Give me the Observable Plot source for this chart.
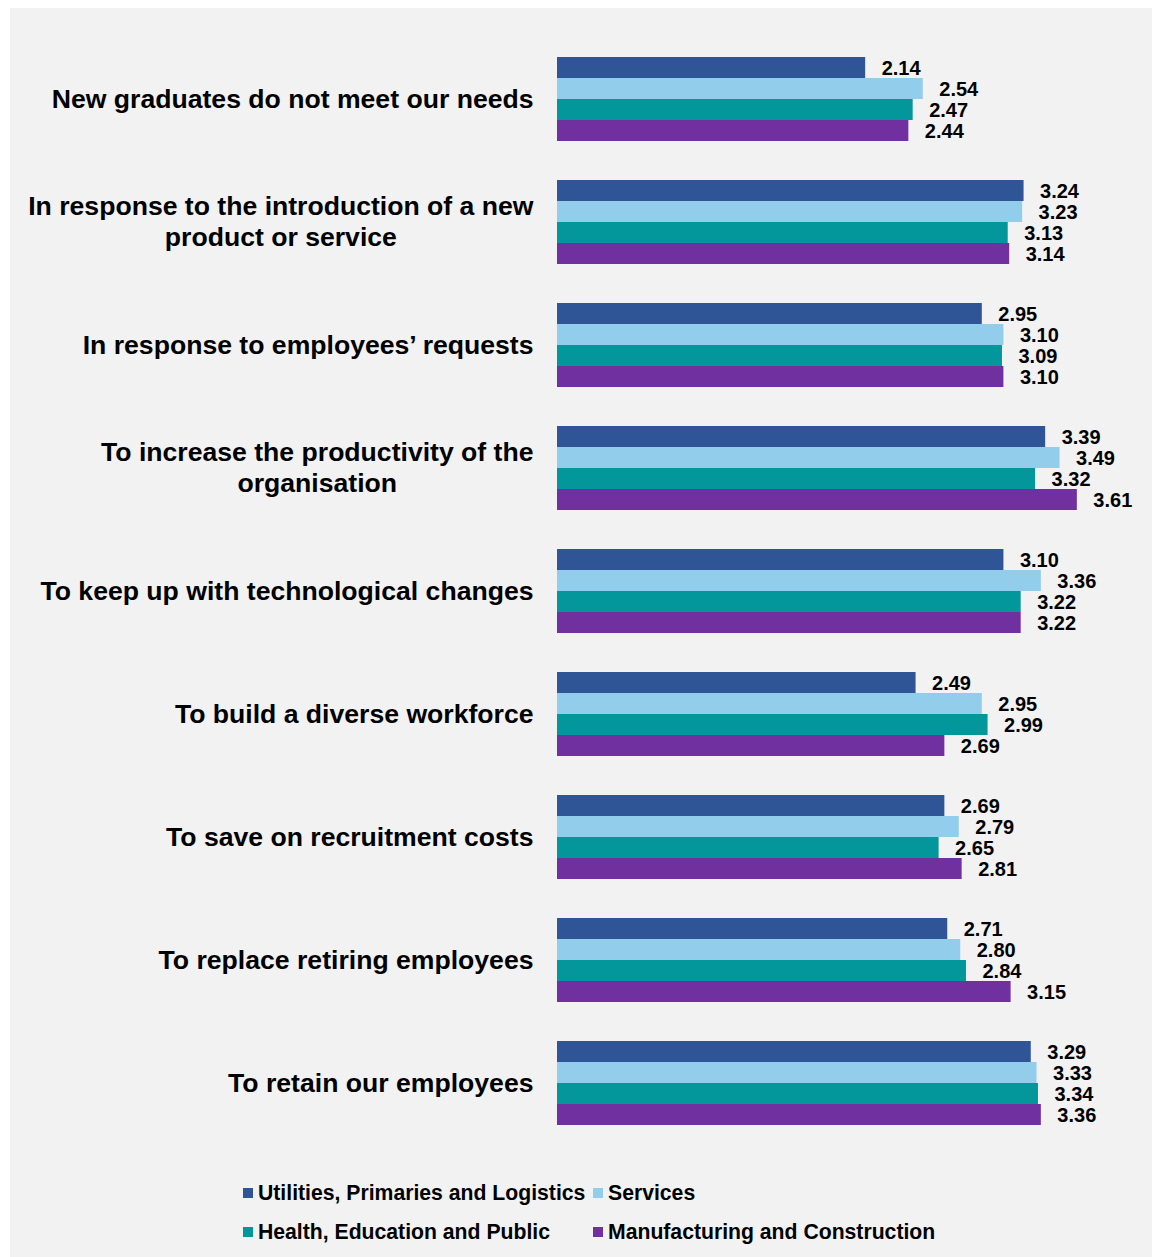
<!DOCTYPE html>
<html>
<head>
<meta charset="utf-8">
<script src="https://cdn.jsdelivr.net/npm/d3@7"></script>
<script src="https://cdn.jsdelivr.net/npm/@observablehq/plot@0.6"></script>
<style>
  body { margin: 0; background: #ffffff; font-family: "Liberation Sans", Arial, sans-serif; }
  #panel { position: absolute; left: 10px; top: 8px; width: 1142px; height: 1249px; background: #f2f2f2; }
  #chart svg { display: block; }
  #legend { position: absolute; left: 233px; top: 1172px; display: grid; grid-template-columns: 350px 350px; row-gap: 13px; }
  .item { display: flex; align-items: center; height: 26px; font-weight: bold; font-size: 21.2px; color: #000; white-space: nowrap; }
  .swatch { width: 10px; height: 10px; margin-right: 5px; flex: none; }
</style>
</head>
<body>
<div id="panel">
  <div id="chart"></div>
  <div id="legend"></div>
</div>
<script>
// Reasons for hiring, mean rating by sector
const categories = [
  "New graduates do not meet our needs",
  "In response to the introduction of a new\nproduct or service",
  "In response to employees’ requests",
  "To increase the productivity of the\norganisation",
  "To keep up with technological changes",
  "To build a diverse workforce",
  "To save on recruitment costs",
  "To replace retiring employees",
  "To retain our employees"
];
const seriesNames = [
  "Utilities, Primaries and Logistics",
  "Services",
  "Health, Education and Public",
  "Manufacturing and Construction"
];
const seriesColors = ["#2F5597", "#92CDEC", "#03979B", "#7030A0"];

const utilities     = [2.14, 3.24, 2.95, 3.39, 3.10, 2.49, 2.69, 2.71, 3.29];
const services      = [2.54, 3.23, 3.10, 3.49, 3.36, 2.95, 2.79, 2.80, 3.33];
const health        = [2.47, 3.13, 3.09, 3.32, 3.22, 2.99, 2.65, 2.84, 3.34];
const manufacturing = [2.44, 3.14, 3.10, 3.61, 3.22, 2.69, 2.81, 3.15, 3.36];

const seriesValues = [utilities, services, health, manufacturing];

// Long-format table: one row per bar
const rows = [];
categories.forEach((c, i) => {
  seriesNames.forEach((s, j) => {
    rows.push({category: c, series: s, value: seriesValues[j][i]});
  });
});

const pad = 39 / 123;

const chart = Plot.plot({
  width: 1142,
  height: 1156,
  marginLeft: 547,
  marginRight: 19,
  marginTop: 10,
  marginBottom: 0,
  style: {background: "transparent", color: "#000", fontFamily: "'Liberation Sans', Arial, sans-serif"},
  x: {domain: [0, 4], axis: null},
  y: {domain: seriesNames, padding: 0, round: false, axis: null},
  fy: {domain: categories, paddingInner: pad, paddingOuter: pad, round: false},
  color: {domain: seriesNames, range: seriesColors},
  marks: [
    Plot.barX(rows, {x: "value", y: "series", fy: "category", fill: "series"}),
    Plot.text(rows, {
      x: "value", y: "series", fy: "category",
      text: d => d.value.toFixed(2),
      textAnchor: "start", dx: 16, dy: 1,
      fontSize: 20, fontWeight: "bold", fill: "#000"
    }),
    Plot.axisFy({
      anchor: "left",
      label: null, tickSize: 0, tickPadding: 24, dy: -2,
      fontSize: 26.6, fontWeight: "bold", lineHeight: 1.18, fill: "#000"
    })
  ]
});

document.getElementById("chart").appendChild(chart);

// Multi-line category labels: centre each line within the block, keeping the block's right edge
chart.querySelectorAll('g[aria-label="fy-axis tick label"] text').forEach(t => {
  if (t.querySelectorAll("tspan").length < 2) return;
  const before = t.getBBox();
  const right = before.x + before.width;
  t.setAttribute("text-anchor", "middle");
  const after = t.getBBox();
  const shift = right - (after.x + after.width);
  const tr = t.getAttribute("transform") || "";
  t.setAttribute("transform", tr + ` translate(${shift},0)`);
});

// Legend
const legend = document.getElementById("legend");
seriesNames.forEach((s, j) => {
  const item = document.createElement("div");
  item.className = "item";
  const sw = document.createElement("span");
  sw.className = "swatch";
  sw.style.background = seriesColors[j];
  item.appendChild(sw);
  item.appendChild(document.createTextNode(s));
  legend.appendChild(item);
});
</script>
</body>
</html>
